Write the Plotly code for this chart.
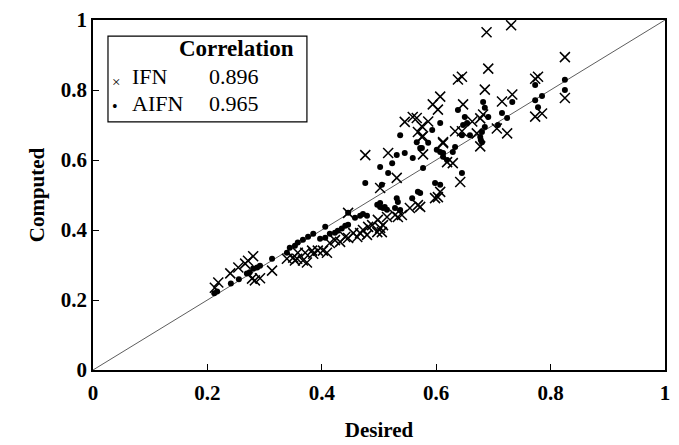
import plotly.graph_objects as go

# IFN (x marks): desired, computed
IFN_DESIRED = [0.213, 0.219, 0.240, 0.254, 0.266, 0.271, 0.280, 0.278, 0.283, 0.292, 0.313, 0.339,
               0.353, 0.350, 0.357, 0.367, 0.374, 0.358, 0.371, 0.383, 0.385, 0.393, 0.402, 0.409,
               0.414, 0.423, 0.432, 0.441, 0.446, 0.455, 0.462, 0.467, 0.472, 0.479, 0.446,
               0.498, 0.502, 0.507, 0.505, 0.497, 0.481, 0.488,
               0.516, 0.531, 0.642, 0.603, 0.607, 0.554, 0.572, 0.568, 0.528, 0.533, 0.540, 0.514,
               0.612, 0.619, 0.629, 0.476, 0.502,
               0.691, 0.645, 0.638, 0.773, 0.778, 0.825, 0.685, 0.607, 0.594, 0.603, 0.647, 0.715,
               0.733, 0.682, 0.677, 0.663, 0.586, 0.575, 0.773, 0.785, 0.633, 0.645, 0.612, 0.577,
               0.577, 0.671, 0.677, 0.706, 0.724, 0.598,
               0.825, 0.688, 0.731, 0.545, 0.559, 0.566, 0.568, 0.575]
IFN_COMPUTED = [0.235, 0.250, 0.276, 0.293, 0.304, 0.312, 0.325, 0.261, 0.256, 0.262, 0.284, 0.318,
                0.313, 0.321, 0.318, 0.313, 0.307, 0.335, 0.335, 0.341, 0.332, 0.341, 0.341, 0.335,
                0.363, 0.371, 0.366, 0.380, 0.377, 0.391, 0.380, 0.391, 0.400, 0.386, 0.449,
                0.429, 0.406, 0.414, 0.394, 0.394, 0.409, 0.414,
                0.620, 0.549, 0.537, 0.494, 0.509, 0.463, 0.466, 0.471, 0.443, 0.437, 0.443, 0.437,
                0.651, 0.594, 0.591, 0.614, 0.520,
                0.861, 0.838, 0.830, 0.832, 0.838, 0.777, 0.801, 0.781, 0.759, 0.744, 0.759, 0.767,
                0.787, 0.730, 0.719, 0.710, 0.710, 0.696, 0.724, 0.733, 0.682, 0.682, 0.648, 0.668,
                0.616, 0.676, 0.639, 0.690, 0.676, 0.491,
                0.894, 0.965, 0.985, 0.709, 0.723, 0.720, 0.680, 0.666]

# AIFN (dots): desired, computed
AIFN_DESIRED = [0.212, 0.217, 0.241, 0.255, 0.269, 0.274, 0.280, 0.287, 0.292, 0.313, 0.339, 0.344,
                0.353, 0.358, 0.367, 0.376, 0.385, 0.406, 0.397, 0.406, 0.414, 0.423, 0.428, 0.435,
                0.441, 0.446, 0.446, 0.458, 0.467, 0.472, 0.479, 0.497, 0.502, 0.507, 0.514,
                0.531, 0.545, 0.559, 0.566, 0.575, 0.586, 0.607, 0.612, 0.633, 0.629, 0.502, 0.523,
                0.516, 0.577, 0.619, 0.645, 0.598, 0.607, 0.568, 0.558, 0.531, 0.533, 0.502, 0.510,
                0.528, 0.537, 0.505, 0.476,
                0.773, 0.825, 0.825, 0.773, 0.785, 0.778, 0.682, 0.685, 0.638, 0.650, 0.691, 0.733,
                0.715, 0.724, 0.607, 0.593, 0.647, 0.645, 0.659, 0.680, 0.677, 0.678, 0.680, 0.685,
                0.708, 0.601, 0.612, 0.572, 0.572, 0.537, 0.654]
AIFN_COMPUTED = [0.219, 0.224, 0.247, 0.259, 0.276, 0.279, 0.290, 0.293, 0.298, 0.318, 0.335, 0.349,
                 0.355, 0.364, 0.372, 0.381, 0.389, 0.409, 0.375, 0.378, 0.389, 0.392, 0.398, 0.404,
                 0.412, 0.415, 0.449, 0.435, 0.441, 0.446, 0.441, 0.472, 0.466, 0.463, 0.458,
                 0.614, 0.620, 0.606, 0.651, 0.634, 0.649, 0.623, 0.620, 0.637, 0.623, 0.580, 0.591,
                 0.563, 0.577, 0.600, 0.563, 0.534, 0.529, 0.509, 0.491, 0.491, 0.480, 0.477, 0.466,
                 0.463, 0.457, 0.529, 0.534,
                 0.814, 0.829, 0.800, 0.771, 0.783, 0.751, 0.766, 0.749, 0.743, 0.723, 0.723, 0.766,
                 0.734, 0.720, 0.706, 0.686, 0.700, 0.671, 0.671, 0.680, 0.666, 0.657, 0.651, 0.694,
                 0.700, 0.629, 0.609, 0.634, 0.506, 0.671, 0.706]

DIAG = [0, 1]
TICKS = [0, 0.2, 0.4, 0.6, 0.8, 1]
SERIES_NAMES = ["IFN", "AIFN"]
CORRELATIONS = ["0.896", "0.965"]

SERIF = "Liberation Serif, Times New Roman, serif"

fig = go.Figure()
fig.add_trace(go.Scatter(x=DIAG, y=DIAG, mode="lines",
                         line=dict(color="#333333", width=0.8), hoverinfo="skip", showlegend=False))
fig.add_trace(go.Scatter(x=IFN_DESIRED, y=IFN_COMPUTED, mode="markers", name=SERIES_NAMES[0],
                         marker=dict(symbol="x-thin-open", size=10, color="black",
                                     line=dict(color="black", width=1.5)), showlegend=False))
fig.add_trace(go.Scatter(x=AIFN_DESIRED, y=AIFN_COMPUTED, mode="markers", name=SERIES_NAMES[1],
                         marker=dict(symbol="circle", size=6, color="black"), showlegend=False))

axis_common = dict(range=[0, 1], tickvals=TICKS, showgrid=False, zeroline=False,
                   showline=True, mirror=True, linecolor="black", linewidth=1.5,
                   ticks="inside", ticklen=6, tickcolor="black", automargin=False,
                   tickfont=dict(family=SERIF, size=21, color="black", weight="bold"))

fig.update_layout(
    width=679, height=445,
    margin=dict(l=93, r=14, t=20, b=75),
    paper_bgcolor="white", plot_bgcolor="white",
    xaxis=dict(**axis_common, ticklabelstandoff=3,
               title=dict(text="<b>Desired</b>", font=dict(family=SERIF, size=21, color="black"),
                          standoff=18)),
    yaxis=dict(**axis_common,
               title=dict(text="<b>Computed</b>", font=dict(family=SERIF, size=21, color="black"),
                          standoff=10)),
)

# legend box
fig.add_shape(type="rect", xref="paper", yref="paper",
              x0=0.0262, x1=0.374, y0=0.709, y1=0.954,
              line=dict(color="black", width=1.2), fillcolor="white", layer="above")

def ann(text, x, y, size, xanchor="left", bold=False):
    fig.add_annotation(text=f"<b>{text}</b>" if bold else text, x=x, y=y, xref="paper", yref="paper",
                       xanchor=xanchor, yanchor="middle", showarrow=False,
                       font=dict(family=SERIF, size=size, color="black"))

ann("Correlation", 0.25, 0.918, 23, xanchor="center", bold=True)
ann("\u00d7", 0.029, 0.823, 15)
ann(SERIES_NAMES[0], 0.064, 0.838, 22)
ann(CORRELATIONS[0], 0.199, 0.838, 22)
ann("\u2022", 0.030, 0.752, 16)
ann(SERIES_NAMES[1], 0.064, 0.762, 22)
ann(CORRELATIONS[1], 0.199, 0.762, 22)

fig.write_html("out.html", config={"displayModeBar": False},
               post_script="document.body.style.margin='0';document.body.style.overflow='hidden';")
